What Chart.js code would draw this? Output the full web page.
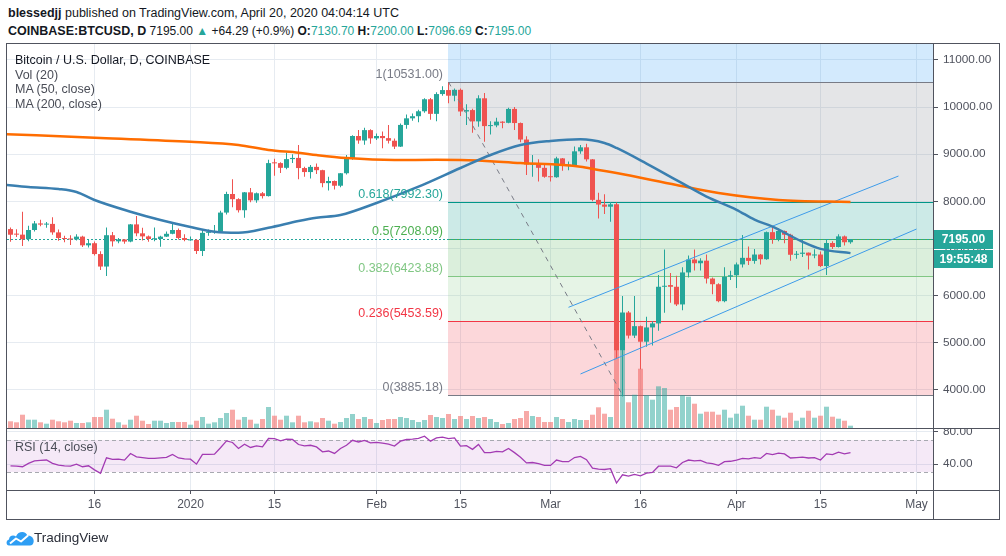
<!DOCTYPE html>
<html>
<head>
<meta charset="utf-8">
<title>BTCUSD</title>
<script src="https://cdn.jsdelivr.net/npm/chart.js@4.4.1/dist/chart.umd.min.js"></script>
<style>
  html, body { margin:0; padding:0; background:#ffffff; }
  #wrap { position:relative; width:1006px; height:556px; overflow:hidden; font-family:'Liberation Sans', Arial, sans-serif; color:#131722; }
  .t { position:absolute; white-space:nowrap; line-height:16px; }
  canvas { position:absolute; left:0; }
  .ln { position:absolute; background:#50535e; }
  .g { color:#26a69a; }
  .leg { position:absolute; left:15px; font-size:12.5px; color:#4a4d57; white-space:nowrap; line-height:14px; }
</style>
</head>
<body>
<div id="wrap">
  <div class="t" style="left:8px;top:5px;font-size:12.5px;"><b>blessedjj</b> published on TradingView.com, April 20, 2020 04:04:14 UTC</div>
  <div class="t" style="left:8px;top:23px;font-size:12.5px;"><b>COINBASE:BTCUSD, D</b><span style="font-size:12px"> 7195.00 <span class="g">▲</span> +64.29 (+0.9%) <b>O:</b><span class="g">7130.70</span> <b>H:</b><span class="g">7200.00</span> <b>L:</b><span class="g">7096.69</span> <b>C:</b><span class="g">7195.00</span></span></div>

  <canvas id="cA" width="1006" height="384" style="top:44px"></canvas>
  <canvas id="cB" width="1006" height="90" style="top:429px"></canvas>

  <div class="leg" style="top:53px;color:#131722">Bitcoin / U.S. Dollar, D, COINBASE</div>
  <div class="leg" style="top:67.5px">Vol (20)</div>
  <div class="leg" style="top:82px">MA (50, close)</div>
  <div class="leg" style="top:96.5px">MA (200, close)</div>
  <div class="leg" style="top:440px;left:15px">RSI (14, close)</div>

  <div class="ln" style="left:6px;top:43px;width:994px;height:1px"></div>
  <div class="ln" style="left:6px;top:519px;width:994px;height:1px"></div>
  <div class="ln" style="left:6px;top:43px;width:1px;height:477px"></div>
  <div class="ln" style="left:999px;top:43px;width:1px;height:477px"></div>
  <div class="ln" style="left:933px;top:43px;width:1px;height:477px"></div>
  <div class="ln" style="left:6px;top:428px;width:994px;height:1px"></div>
  <div class="ln" style="left:6px;top:490px;width:994px;height:1px"></div>

  <svg style="position:absolute;left:6px;top:530px" width="28" height="16" viewBox="0 0 28 16">
    <path d="M3 15.5 C0 15.5 -0.5 10.5 3 9.5 C3 5.5 7.5 4.5 10 6.5 C12 1 20 0.5 21.5 6 C25.5 5 28.5 9 27.5 12.5 C27 14.5 26 15.5 24 15.5 Z" fill="#2e9ef4"/>
    <polyline points="4,13.5 10,8.5 15,11.5 22,5.5" stroke="#ffffff" stroke-width="2" fill="none" stroke-linejoin="round"/>
  </svg>
  <div class="t" style="left:34px;top:530px;font-size:13.5px;color:#2a2e39">TradingView</div>
</div>

<script>
// ---------------- DATA ----------------
const dates = [
 '2019-12-02','2019-12-03','2019-12-04','2019-12-05','2019-12-06','2019-12-07','2019-12-08','2019-12-09','2019-12-10','2019-12-11',
 '2019-12-12','2019-12-13','2019-12-14','2019-12-15','2019-12-16','2019-12-17','2019-12-18','2019-12-19','2019-12-20','2019-12-21',
 '2019-12-22','2019-12-23','2019-12-24','2019-12-25','2019-12-26','2019-12-27','2019-12-28','2019-12-29','2019-12-30','2019-12-31',
 '2020-01-01','2020-01-02','2020-01-03','2020-01-04','2020-01-05','2020-01-06','2020-01-07','2020-01-08','2020-01-09','2020-01-10',
 '2020-01-11','2020-01-12','2020-01-13','2020-01-14','2020-01-15','2020-01-16','2020-01-17','2020-01-18','2020-01-19','2020-01-20',
 '2020-01-21','2020-01-22','2020-01-23','2020-01-24','2020-01-25','2020-01-26','2020-01-27','2020-01-28','2020-01-29','2020-01-30','2020-01-31',
 '2020-02-01','2020-02-02','2020-02-03','2020-02-04','2020-02-05','2020-02-06','2020-02-07','2020-02-08','2020-02-09','2020-02-10',
 '2020-02-11','2020-02-12','2020-02-13','2020-02-14','2020-02-15','2020-02-16','2020-02-17','2020-02-18','2020-02-19','2020-02-20',
 '2020-02-21','2020-02-22','2020-02-23','2020-02-24','2020-02-25','2020-02-26','2020-02-27','2020-02-28','2020-02-29',
 '2020-03-01','2020-03-02','2020-03-03','2020-03-04','2020-03-05','2020-03-06','2020-03-07','2020-03-08','2020-03-09','2020-03-10',
 '2020-03-11','2020-03-12','2020-03-13','2020-03-14','2020-03-15','2020-03-16','2020-03-17','2020-03-18','2020-03-19','2020-03-20',
 '2020-03-21','2020-03-22','2020-03-23','2020-03-24','2020-03-25','2020-03-26','2020-03-27','2020-03-28','2020-03-29','2020-03-30','2020-03-31',
 '2020-04-01','2020-04-02','2020-04-03','2020-04-04','2020-04-05','2020-04-06','2020-04-07','2020-04-08','2020-04-09','2020-04-10',
 '2020-04-11','2020-04-12','2020-04-13','2020-04-14','2020-04-15','2020-04-16','2020-04-17','2020-04-18','2020-04-19','2020-04-20'
];
const opens = [
 7410,7300,7292,7195,7390,7530,7505,7520,7340,7220,7200,7190,7250,7065,7110,6880,6615,7280,7150,7190,7145,7510,7320,7255,7195,7200,7250,7310,7390,7220,
 7170,7180,6945,7330,7350,7355,7760,8155,8045,7810,8190,8020,8170,8110,8815,8810,8710,8895,8920,8705,8620,8730,8660,8385,8430,8330,8595,8900,9385,9290,9510,
 9335,9385,9340,9285,9160,9620,9760,9805,9910,10165,9855,10275,10360,10240,10365,9905,9935,9695,10185,9595,9610,9690,9665,9960,9660,9310,8780,8810,8710,
 8520,8510,8910,8755,8770,9060,9145,8890,8030,7930,7885,7935,4841,5640,5150,5350,5020,5323,5408,6186,6221,6186,5811,6490,6765,6685,6740,6360,6240,5880,6400,
 6430,6660,6800,6735,6870,6770,7345,7200,7370,7290,6865,6885,6910,6850,6870,6625,7115,7030,7255,7130.70
];
const highs = [
 7446,7405,7777,7480,7580,7610,7560,7660,7400,7270,7280,7300,7270,7190,7145,6940,7446,7350,7220,7200,7520,7690,7440,7275,7446,7270,7360,7530,7420,7300,
 7250,7200,7400,7400,7495,7800,8200,8465,8065,8195,8280,8185,8195,8880,8900,8830,9030,9000,9194,8730,8770,8800,8670,8520,8440,8600,8980,9400,9512,9560,9530,
 9440,9480,9618,9330,9650,9840,9860,9940,10185,10190,10315,10440,10531,10395,10395,10060,9965,10250,10300,9700,9770,9700,9985,10000,9670,9380,8980,8890,8795,
 8765,8945,8920,8845,9160,9195,9220,8895,8180,8150,7985,7975,5988,5670,5988,5365,5548,5455,6434,6979,6476,6420,6600,6850,6979,6790,6870,6385,6260,6600,6525,
 6700,7283,7040,6990,6880,7360,7460,7420,7380,7310,6945,7192,6915,6980,6935,7200,7150,7300,7275,7200.00
];
const lows = [
 7141,7240,7049,7150,7360,7470,7440,7290,7160,7130,7070,7170,7030,7020,6850,6540,6412,7040,7110,7100,7130,7260,7170,7140,7150,7035,7240,7300,7190,7150,
 7160,6879,6837,7270,7310,7340,7720,7875,7760,7650,7980,7970,8060,8100,8540,8600,8680,8810,8465,8520,8485,8580,8300,8230,8250,8300,8570,8880,9220,9200,9220,
 9300,9123,9225,9110,9150,9540,9710,9675,9880,9730,9700,10240,10080,10120,9810,9618,9455,9580,9264,9415,9570,9550,9655,9510,9250,8560,8521,8420,8500,
 8420,8500,8650,8660,8760,9010,8845,8000,7637,7730,7565,4670,3858,5090,5100,4438,4911,4940,5251,5633,5845,5780,5690,6380,6530,6530,6255,6025,5860,5860,6330,
 6160,6595,6650,6675,6660,6760,7100,7150,7110,6737,6780,6815,6555,6790,6605,6434,6985,7020,7060,7096.69
];
const closes = [
 7290,7292,7195,7390,7530,7505,7520,7340,7220,7200,7190,7250,7065,7110,6880,6615,7280,7150,7190,7145,7510,7320,7255,7200,7205,7250,7310,7390,7220,7180,
 7180,6945,7330,7350,7355,7760,8155,8045,7810,8190,8020,8170,8110,8810,8805,8710,8895,8920,8705,8620,8730,8660,8385,8430,8330,8595,8900,9385,9290,9510,9335,
 9385,9340,9285,9160,9620,9760,9805,9910,10165,9855,10275,10360,10240,10365,9905,9935,9695,10185,9595,9610,9690,9665,9960,9660,9310,8780,8810,8710,8520,
 8510,8910,8755,8770,9060,9145,8890,8030,7930,7885,7935,4841,5640,5150,5350,5020,5323,5408,6186,6200,6186,5811,6490,6765,6685,6740,6360,6240,5880,6400,6430,
 6660,6800,6735,6870,6770,7345,7200,7370,7290,6865,6885,6910,6850,6870,6625,7115,7030,7255,7130.70,7195.00
];
// volume, thousand BTC
const volumes = [
 6.7,5.7,13.3,8.3,8.3,5.7,4.3,8.3,6.7,5.7,7.3,5,5,5.7,11,11,18.3,9.3,5.7,3.3,8.3,12.3,7.3,4,7.3,7.3,5,6,6,6,
 3.3,7.3,11,4.3,5.7,10,15,18.3,8.3,11,8.3,4.3,9,21,12.3,8.3,12.3,5.7,12.3,5.7,6.7,5.7,10,7.3,4.3,6,10,14,9,11,9,
 5,8,9,9,11,10,8,6,8,13,11,10,14,9,12,9,12,10,11,9,6,4,5,9,10,17,12,11,6,
 6,11,9,6,9,8,8,13.3,20.7,14.3,11,80,78,25.7,33.3,59.3,32.7,28.3,41.7,40,18.3,21,32.7,31.3,24.3,14.3,16.3,16.3,13.3,18.3,10.3,
 14.3,22.3,12.3,8.3,8.3,21.3,18.3,12.3,10.3,15.3,7.3,10.3,17.3,10.3,12.3,21.3,11.3,9.3,7.3,2.3
];
const rsi14 = [
 38,37.5,36.8,41,44,44.5,45,41,38.8,38,37.6,40,36.8,38,33,28.8,47.7,45.7,46,44.9,53,48.9,48,47,47,47.6,48.2,51.8,47.5,46.5,
 46,40,51.8,52,52.2,60,68.3,66.4,59.1,64.3,60.3,62.3,61,71.2,71,68.3,70.4,70,63.9,62.3,63,61,55,56,53,59,63,69,67,69,66,
 66.5,65.5,64.5,62,68,70,70.5,71.5,74,68,72,73,71,72,62,62.5,58,64,54,54,55.5,55,59,54,48.5,41.5,42,40.5,38.5,
 38.4,45,43,43,48,49.5,45.5,35,34,33.5,34.5,17,27,25.5,27.5,25.8,29,30,37.5,37.7,37.6,35.5,42,45,44,44.5,41.5,40.5,38.5,43,43.5,
 45,47,46.5,48,47,53,51.5,53.5,52.5,47.5,48,48.5,47.5,48,45,52.5,51.5,54.5,52.5,54
];
const ma50Dates = ['2019-12-01','2019-12-05','2019-12-10','2019-12-13','2019-12-16','2019-12-22','2019-12-27','2020-01-01','2020-01-05','2020-01-09',
 '2020-01-14','2020-01-19','2020-01-22','2020-01-26','2020-02-01','2020-02-08','2020-02-15','2020-02-20','2020-02-25','2020-03-01','2020-03-06',
 '2020-03-10','2020-03-12','2020-03-17','2020-03-22','2020-03-27','2020-04-01','2020-04-04','2020-04-07','2020-04-12','2020-04-15','2020-04-20'];
const ma50Values = [8350,8303,8260,8197,8027,7779,7603,7454,7354,7333,7439,7581,7651,7709,7964,8309,8706,8982,9194,9279,9315,
 9237,9131,8800,8450,8100,7820,7610,7460,7140,6990,6900];
const ma200Dates = ['2019-12-01','2019-12-17','2020-01-01','2020-01-09','2020-01-14','2020-01-19','2020-01-22','2020-01-27','2020-02-04','2020-02-11',
 '2020-02-15','2020-02-25','2020-03-06','2020-03-09','2020-03-12','2020-03-22','2020-03-29','2020-04-08','2020-04-20'];
const ma200Values = [9427,9343,9264,9194,9088,9031,8982,8918,8876,8880,8878,8812,8734,8664,8600,8345,8176,8027,7985];

const priceTicks = [4000,5000,6000,7000,8000,9000,10000,11000];
const rsiTicks = [40,80];
const xTickDates = ['2019-12-16','2020-01-01','2020-01-15','2020-02-01','2020-02-15','2020-03-01','2020-03-16','2020-04-01','2020-04-15','2020-05-01'];
const xTickLabels = ['16','2020','15','Feb','15','Mar','16','Apr','15','May'];

const fibLevels = ['1','0.618','0.5','0.382','0.236','0'];
const fibPrices = [10531.00,7992.30,7208.09,6423.88,5453.59,3885.18];
const fibStartDate = '2020-02-13';
const channelUpperDates = ['2020-03-04','2020-04-28'];
const channelUpperPrices = [5750,8536];
const channelLowerDates = ['2020-03-06','2020-05-01'];
const channelLowerPrices = [4335,7411];
const diagonalDates = ['2020-02-13','2020-03-13'];
const diagonalPrices = [10531.00,3885.18];
const lastPrice = 7195.00;
const countdownText = '19:55:48';

// ---------------- HELPERS ----------------
const DAY0 = Date.UTC(2020,0,1);
const dayOf = s => (Date.UTC(+s.slice(0,4), +s.slice(5,7)-1, +s.slice(8,10)) - DAY0) / 864e5;
const xs = dates.map(dayOf);
const pts = (ds, vs) => ds.map((d,i) => ({x: dayOf(d), y: vs[i]}));

const UP = '#26a69a', DOWN = '#ef5350';
const UPV = 'rgba(38,166,154,0.5)', DOWNV = 'rgba(239,83,80,0.5)';
const GRID = '#e6ebf1', AXISC = '#50535e';
const X_MIN = -30.583, X_MAX = 123.75;
const FONT = "'Liberation Sans', Arial, sans-serif";

Chart.defaults.font.family = FONT;
Chart.defaults.font.size = 11.8;
Chart.defaults.color = AXISC;

const isUp = closes.map((c,i) => c >= opens[i]);

const xTickDays = xTickDates.map(dayOf);
const setXTicks = s => { s.ticks = xTickDays.map(v => ({value: v})); };
const noPad = s => { s.paddingTop = 0; s.paddingBottom = 0; s.paddingLeft = 0; s.paddingRight = 0; };

// ---------------- PLUGINS ----------------
const fibPlugin = {
  id: 'fibPlugin',
  beforeDatasetsDraw(chart) {
    const {ctx, chartArea: a, scales: {x, y}} = chart;
    ctx.save();
    ctx.beginPath(); ctx.rect(a.left, a.top, a.right - a.left, a.bottom - a.top); ctx.clip();
    const x0 = Math.round(x.getPixelForValue(dayOf(fibStartDate)));
    const bandColors = ['rgba(33,150,243,0.2)','rgba(120,123,134,0.2)','rgba(0,150,136,0.2)','rgba(76,175,80,0.2)','rgba(129,199,132,0.2)','rgba(242,54,69,0.2)'];
    const lineColors = ['#787b86','#009688','#4caf50','#81c784','#f23645','#787b86'];
    const ys = fibPrices.map(p => Math.round(y.getPixelForValue(p)));
    ctx.fillStyle = bandColors[0];
    ctx.fillRect(x0, a.top, a.right - x0, ys[0] - a.top);
    for (let i = 0; i < ys.length - 1; i++) {
      ctx.fillStyle = bandColors[i+1];
      ctx.fillRect(x0, ys[i], a.right - x0, ys[i+1] - ys[i]);
    }
    for (let i = 0; i < ys.length; i++) {
      ctx.fillStyle = lineColors[i];
      ctx.fillRect(x0, ys[i], a.right - x0, 1);
    }
    const yp = Math.round(y.getPixelForValue(lastPrice)) + 0.5;
    ctx.strokeStyle = UP; ctx.lineWidth = 1; ctx.setLineDash([2,2]);
    ctx.beginPath(); ctx.moveTo(a.left, yp); ctx.lineTo(a.right, yp); ctx.stroke();
    ctx.restore();
  },
  afterDatasetsDraw(chart) {
    const {ctx, scales: {x, y}} = chart;
    const x0 = Math.round(x.getPixelForValue(dayOf(fibStartDate)));
    const lineColors = ['#787b86','#26a69a','#4caf50','#81c784','#f23645','#787b86'];
    ctx.save();
    ctx.font = '12.5px ' + FONT;
    ctx.textAlign = 'right'; ctx.textBaseline = 'middle';
    fibPrices.forEach((p, i) => {
      ctx.fillStyle = lineColors[i];
      ctx.fillText(fibLevels[i] + '(' + p.toFixed(2) + ')', x0 - 5, Math.round(y.getPixelForValue(p)) - 7);
    });
    ctx.restore();
  },
  afterDraw(chart) {
    const {ctx, chartArea: a, scales: {y}} = chart;
    const yp = Math.round(y.getPixelForValue(lastPrice));
    ctx.save();
    ctx.fillStyle = UP;
    ctx.fillRect(a.right + 1, yp - 9, 59, 19);
    ctx.fillRect(a.right + 1, yp + 11, 59, 18);
    ctx.fillStyle = '#ffffff';
    ctx.font = 'bold 12px ' + FONT;
    ctx.textAlign = 'center'; ctx.textBaseline = 'middle';
    ctx.fillText(lastPrice.toFixed(2), a.right + 30.5, yp + 0.5);
    ctx.fillText(countdownText, a.right + 30.5, yp + 20.5);
    ctx.restore();
  }
};

const rsiPlugin = {
  id: 'rsiPlugin',
  beforeDatasetsDraw(chart) {
    const {ctx, chartArea: a, scales: {y}} = chart;
    const y70 = Math.round(y.getPixelForValue(70)), y30 = Math.round(y.getPixelForValue(30));
    ctx.save();
    ctx.fillStyle = 'rgba(156,39,176,0.1)';
    ctx.fillRect(a.left, y70, a.right - a.left, y30 - y70);
    ctx.strokeStyle = '#a7a9b0'; ctx.lineWidth = 1; ctx.setLineDash([4,3]);
    [y70, y30].forEach(v => { ctx.beginPath(); ctx.moveTo(a.left, v + 0.5); ctx.lineTo(a.right, v + 0.5); ctx.stroke(); });
    ctx.restore();
  }
};

// ---------------- CHART A: price + volume ----------------
const bodyData = xs.map((d,i) => ({x: d, y: [opens[i], closes[i]]}));
const wickData = xs.map((d,i) => ({x: d, y: [lows[i], highs[i]]}));
const volData = xs.map((d,i) => ({x: d, y: volumes[i]}));

new Chart(document.getElementById('cA'), {
  type: 'bar',
  data: {
    datasets: [
      { type:'line', label:'MA 50', data: pts(ma50Dates, ma50Values), yAxisID:'y', borderColor:'#3a7fb0', borderWidth:2.5,
        pointRadius:0, cubicInterpolationMode:'monotone', order:0 },
      { type:'line', label:'MA 200', data: pts(ma200Dates, ma200Values), yAxisID:'y', borderColor:'#ff6d00', borderWidth:2.5,
        pointRadius:0, cubicInterpolationMode:'monotone', order:0 },
      { type:'line', label:'Channel upper', data: pts(channelUpperDates, channelUpperPrices), yAxisID:'y', borderColor:'#3d9be9', borderWidth:1,
        pointRadius:0, order:0 },
      { type:'line', label:'Channel lower', data: pts(channelLowerDates, channelLowerPrices), yAxisID:'y', borderColor:'#3d9be9', borderWidth:1,
        pointRadius:0, order:0 },
      { type:'line', label:'Fib trend', data: pts(diagonalDates, diagonalPrices), yAxisID:'y', borderColor:'#787b86', borderWidth:1,
        borderDash:[5,5], pointRadius:0, order:0 },
      { label:'Body', data: bodyData, yAxisID:'y', backgroundColor: isUp.map(u => u ? UP : DOWN), grouped:false,
        categoryPercentage:1, barPercentage:1, maxBarThickness:5, minBarLength:1, inflateAmount:0, order:1 },
      { label:'Wick', data: wickData, yAxisID:'y', backgroundColor: isUp.map(u => u ? UP : DOWN), grouped:false,
        categoryPercentage:1, barPercentage:1, maxBarThickness:1, inflateAmount:0, order:2 },
      { label:'Volume', data: volData, yAxisID:'yVol', backgroundColor: isUp.map(u => u ? UPV : DOWNV), grouped:false,
        categoryPercentage:1, barPercentage:1, maxBarThickness:5, inflateAmount:0, order:3 }
    ]
  },
  options: {
    responsive:false, animation:false, devicePixelRatio:1, events:[],
    layout: { autoPadding:false, padding: { left:7, right:7, top:0, bottom:0 } },
    plugins: { legend:{display:false}, tooltip:{enabled:false} },
    scales: {
      x: { type:'linear', min:X_MIN, max:X_MAX, offset:false, position:'bottom',
           afterBuildTicks: setXTicks, afterFit: s => { s.height = 0; noPad(s); },
           ticks:{ display:false }, border:{ display:false },
           grid:{ color:GRID, drawTicks:false, offset:false } },
      y: { type:'linear', position:'right', min:3189.1, max:11337.3, beginAtZero:false,
           afterBuildTicks: s => { s.ticks = priceTicks.map(v => ({value:v})); },
           afterFit: s => { s.width = 66; noPad(s); },
           ticks:{ padding:5, callback: v => Number(v).toFixed(2), color:AXISC },
           border:{ display:false },
           grid:{ color:GRID, tickColor:AXISC, tickLength:5, drawTicks:true } },
      yVol: { type:'linear', display:false, min:0, max:384, beginAtZero:true, afterFit: noPad }
    }
  },
  plugins: [fibPlugin]
});

// ---------------- CHART B: RSI + time axis ----------------
new Chart(document.getElementById('cB'), {
  type: 'line',
  data: {
    datasets: [
      { label:'RSI', data: xs.map((d,i) => ({x:d, y:rsi14[i]})), borderColor:'#a33bb3', borderWidth:1.3, pointRadius:0, tension:0 }
    ]
  },
  options: {
    responsive:false, animation:false, devicePixelRatio:1, events:[],
    layout: { autoPadding:false, padding: { left:7, right:7, top:0, bottom:0 } },
    plugins: { legend:{display:false}, tooltip:{enabled:false} },
    scales: {
      x: { type:'linear', min:X_MIN, max:X_MAX, offset:false, position:'bottom',
           afterBuildTicks: setXTicks, afterFit: s => { s.height = 29; noPad(s); },
           ticks:{ autoSkip:false, maxRotation:0, padding:3, font:{size:12},
                   callback: (v, i) => xTickLabels[i] },
           border:{ display:false },
           grid:{ color:GRID, tickColor:AXISC, tickLength:4, drawTicks:true } },
      y: { type:'linear', position:'right', min:8.5, max:82.8,
           afterBuildTicks: s => { s.ticks = rsiTicks.map(v => ({value:v})); },
           afterFit: s => { s.width = 66; noPad(s); },
           ticks:{ padding:5, callback: v => Number(v).toFixed(2) },
           border:{ display:false },
           grid:{ color:GRID, tickColor:AXISC, tickLength:5, drawTicks:true } }
    }
  },
  plugins: [rsiPlugin]
});
</script>
</body>
</html>
